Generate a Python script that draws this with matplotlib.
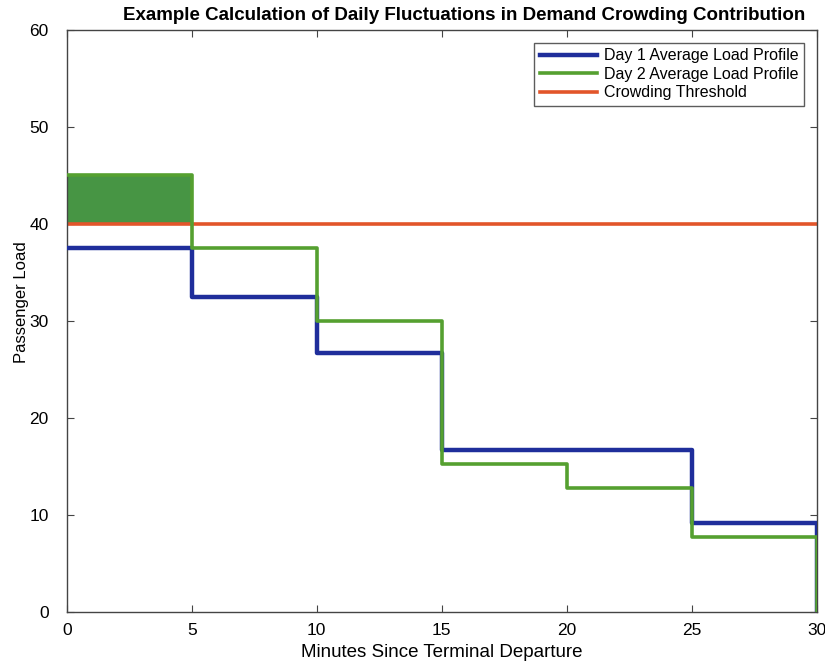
import numpy as np
import matplotlib
matplotlib.use("Agg")
import matplotlib.pyplot as plt

plt.rcParams['font.family'] = ['Liberation Sans', 'DejaVu Sans']

# Segment boundaries (minutes) and average load in each segment
edges = [0, 5, 10, 15, 20, 25, 30]
day1_load = [37.5, 32.5, 26.7, 16.7, 16.7, 9.2]
day2_load = [45.0, 37.5, 30.0, 15.2, 12.8, 7.7]
threshold = 40
xticks = [0, 5, 10, 15, 20, 25, 30]
yticks = [0, 10, 20, 30, 40, 50, 60]

blue = '#1f2e9b'
green = '#55a030'
orange = '#e2552a'


def step_profile(edges, loads):
    # steps-post path that falls back to zero at the final boundary
    xs = np.append(np.asarray(edges, float), edges[-1])
    ys = np.append(np.append(np.asarray(loads, float), loads[-1]), 0.0)
    return xs, ys


fig = plt.figure(figsize=(8.25, 6.63), dpi=100)
ax = fig.add_axes([0.081, 0.077, 0.909, 0.878])

# Crowding excess of day 2 above the threshold
x2, y2 = step_profile(edges, day2_load)
seg_x = np.repeat(edges, 2)[1:-1]
seg_y = np.repeat(day2_load, 2)
ax.fill_between(seg_x, threshold, seg_y, where=seg_y > threshold,
                color='#3d8f3a', alpha=0.95, linewidth=0, zorder=1)

x1, y1 = step_profile(edges, day1_load)
ax.plot(x1, y1, drawstyle='steps-post', color=blue, lw=3.2,
        label='Day 1 Average Load Profile', zorder=3)
ax.plot(x2, y2, drawstyle='steps-post', color=green, lw=2.6,
        label='Day 2 Average Load Profile', zorder=4)
ax.plot([edges[0], edges[-1]], [threshold, threshold], color=orange, lw=2.6,
        label='Crowding Threshold', zorder=2)

ax.set_xlim(0, 30)
ax.set_ylim(0, 60)
ax.set_xticks(xticks)
ax.set_yticks(yticks)
ax.tick_params(direction='in', top=True, right=True, length=5,
               labelsize=12.5, color='#444444')
ax.tick_params(axis='x', pad=8)
ax.tick_params(axis='y', pad=13)
for s in ax.spines.values():
    s.set_color('#444444')
    s.set_linewidth(1.0)

ax.set_xlabel('Minutes Since Terminal Departure', fontsize=13.5, labelpad=4)
ax.set_ylabel('Passenger Load', fontsize=12, labelpad=2)
ax.yaxis.set_label_coords(-0.050, 0.533)
ax.set_title('Example Calculation of Daily Fluctuations in Demand Crowding Contribution',
             fontsize=13.5, fontweight='bold', pad=7, x=0.53)

leg = ax.legend(loc='upper right', fontsize=11.5, frameon=True, fancybox=False,
                edgecolor='#333333', borderpad=0.35, labelspacing=0.22,
                handlelength=3.6, handletextpad=0.4, borderaxespad=0.8)
leg.get_frame().set_linewidth(1.0)

fig.savefig('out.png', dpi=100)
